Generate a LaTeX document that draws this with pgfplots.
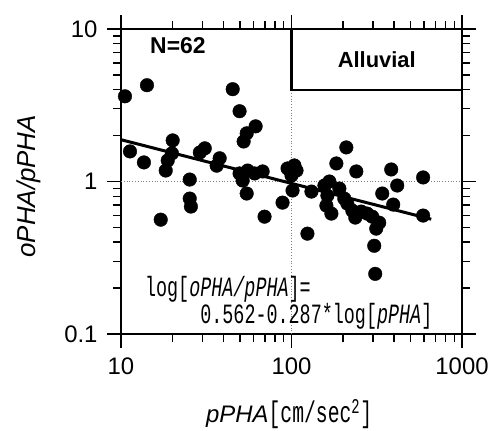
\documentclass[border=0pt]{standalone}
\usepackage{pgfplots}
\pgfplotsset{compat=1.18}
\usepackage{pgfplotstable}
\usepackage{fontspec}
\setmainfont{Liberation Sans}
\newfontfamily\eqfont[FakeStretch=0.66]{Liberation Mono}
\pgfplotstableread{
x y
10.55 3.62
14.2 4.28
11.29 1.575
13.63 1.334
20.1 1.86
19.9 1.53
18.8 1.375
18.3 1.18
25.3 1.03
25.3 0.773
25.7 0.685
17.1 0.562
29.0 1.55
37.9 1.42
36.4 1.27
45.2 4.03
49.6 2.89
61.6 2.30
54.6 2.07
52.4 1.83
49.6 1.129
51.7 1.015
60.8 1.129
67.7 1.164
54.6 0.834
69.5 0.588
88.6 0.727
94.8 1.218
107 1.18
100 1.095
101.4 0.873
130.9 0.859
156 0.941
162.4 0.809
160.2 0.695
171.4 0.616
183.3 1.313
209.7 1.673
239.9 1.164
384.6 1.199
591.5 1.063
416.9 0.941
340.6 0.834
395 0.706
212.5 0.717
227.4 0.644
236.7 0.580
278 0.616
297.6 0.588
314 0.491
305.7 0.379
309.8 0.248
591.5 0.598
124 0.455
190.9 0.899
204 0.773
256.7 0.635
104 1.274
55.3 1.18
166.8 1.0
327 0.537
31 1.65
}\datatable
\begin{document}
\begin{tikzpicture}
\begin{axis}[
 at={(0,0)}, anchor=south west,
 scale only axis, width=341bp, height=305bp,
 xmode=log, ymode=log, xmin=10, xmax=1000, ymin=0.1, ymax=10,
 xtick={10,100,1000}, xticklabels={10,100,1000},
 ytick={0.1,1,10}, yticklabels={0.1,1,10},
 tick align=outside, tick pos=both, xticklabel pos=lower, yticklabel pos=left,
 major tick length=14bp, minor tick length=8bp,
 every tick/.append style={black, line width=1.4bp},
 axis line style={line width=2.6bp},
 ticklabel style={font=\fontsize{24}{26}\selectfont},
 xticklabel style={yshift=-6bp},
 yticklabel style={xshift=-6bp},
 /pgf/number format/assume math mode=true,
 xlabel={{\fontsize{24}{26}\selectfont\itshape pPHA}{\eqfont\fontsize{30}{32}\selectfont[cm/sec\textsuperscript{2}]}},
 every axis x label/.style={at={(axis description cs:0.493,-0.262)}, anchor=center},
 ylabel={\itshape oPHA/pPHA},
 every axis y label/.style={at={(axis description cs:-0.270,0.484)}, anchor=center, rotate=90, font=\fontsize{26}{28}\selectfont},
]
\addplot[gray, dotted, line width=0.8bp] coordinates {(100,0.1) (100,10)};
\addplot[gray, dotted, line width=0.8bp] coordinates {(10,1) (1000,1)};
\addplot[only marks, mark=*, mark size=6.8bp, black] table[x=x,y=y] {\datatable};
\addplot[black, line width=3bp] coordinates {(10,1.88) (660,0.566)};
\draw[line width=2.4bp, fill=white] (rel axis cs:0.5,0.8) rectangle (rel axis cs:1,1);
\node[font=\bfseries\fontsize{22}{24}\selectfont] at (rel axis cs:0.75,0.898) {Alluvial};
\node[font=\bfseries\fontsize{23}{25}\selectfont] at (rel axis cs:0.167,0.944) {N=62};
\node[anchor=west, align=left, font=\eqfont\fontsize{28}{22}\selectfont, inner sep=0pt] at (rel axis cs:0.070,0.102) {log[{\itshape oPHA/pPHA}]=\\\phantom{00000}0.562-0.287*log[{\itshape pPHA}]};
\end{axis}
\pgfresetboundingbox
\path[use as bounding box] (-121bp,-97bp) rectangle (374bp,334bp);
\end{tikzpicture}
\end{document}
